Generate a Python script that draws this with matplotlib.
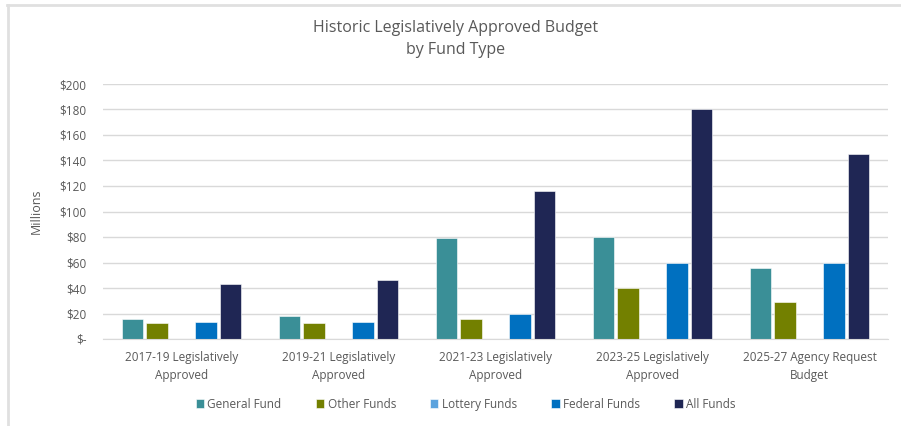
import numpy as np
import matplotlib
matplotlib.use("Agg")
import matplotlib.pyplot as plt
from matplotlib.lines import Line2D

categories = ["2017-19 Legislatively\nApproved", "2019-21 Legislatively\nApproved",
              "2021-23 Legislatively\nApproved", "2023-25 Legislatively\nApproved",
              "2025-27 Agency Request\nBudget"]
series_names = ["General Fund", "Other Funds", "Lottery Funds", "Federal Funds", "All Funds"]
general_fund = [16, 18, 79, 80, 56]
other_funds = [12.5, 12.5, 16, 40, 29]
lottery_funds = [0, 0, 0, 0, 0]
federal_funds = [13.7, 13.7, 19.6, 60, 60]
all_funds = [43, 46, 116, 180, 145]
yticks = [0, 20, 40, 60, 80, 100, 120, 140, 160, 180, 200]
ytick_labels = ["$-", "$20", "$40", "$60", "$80", "$100", "$120", "$140", "$160", "$180", "$200"]

colors = ["#3a8f97", "#738000", "#5ba3de", "#0070c0", "#1f2654"]
values = [general_fund, other_funds, lottery_funds, federal_funds, all_funds]

plt.rcParams['font.family'] = ['Open Sans', 'DejaVu Sans']
txt = "#595959"

fig = plt.figure(figsize=(9.01, 4.26), dpi=100)
ax = fig.add_axes([103/901, 87/426, 785/901, 255/426])

x = np.arange(len(categories))
pitch = 0.156
width = 0.134
for i, (name, vals) in enumerate(zip(series_names, values)):
    ax.bar(x + (i - 2) * pitch, vals, width, color=colors[i], label=name,
           edgecolor="white", linewidth=0.4)

ax.set_xlim(-0.5, len(categories) - 0.5)
ax.set_ylim(0, 200)
ax.set_yticks(yticks)
ax.set_yticklabels(ytick_labels)
ax.set_xticks(x)
ax.set_xticklabels(categories, linespacing=1.5)
ax.yaxis.grid(True, color="#d9d9d9", linewidth=1)
ax.set_axisbelow(True)
for s in ["top", "right", "left"]:
    ax.spines[s].set_visible(False)
ax.spines["bottom"].set_color("#d9d9d9")
ax.tick_params(axis="both", length=0, colors=txt, labelsize=8.5)
ax.tick_params(axis="y", pad=12)
ax.tick_params(axis="x", pad=9)
ax.set_ylabel("Millions", color=txt, fontsize=9, labelpad=12)

fig.text(0.506, 0.952, "Historic Legislatively Approved Budget\nby Fund Type",
         ha="center", va="top", color=txt, fontsize=11.5, linespacing=1.5)

ax.legend(loc="center", bbox_to_anchor=(0.462, -0.255), ncol=5, frameon=False,
          fontsize=8.5, labelcolor=txt, handlelength=0.7, handleheight=0.7,
          handletextpad=0.3, columnspacing=2.9)

# chart border (top and left edges visible)
fig.add_artist(Line2D([7/901, 1], [1 - 5/426, 1 - 5/426], color="#e0e0e0", lw=2))
fig.add_artist(Line2D([8/901, 8/901], [0, 1 - 5/426], color="#e0e0e0", lw=2))

fig.savefig("out.png", dpi=100)
